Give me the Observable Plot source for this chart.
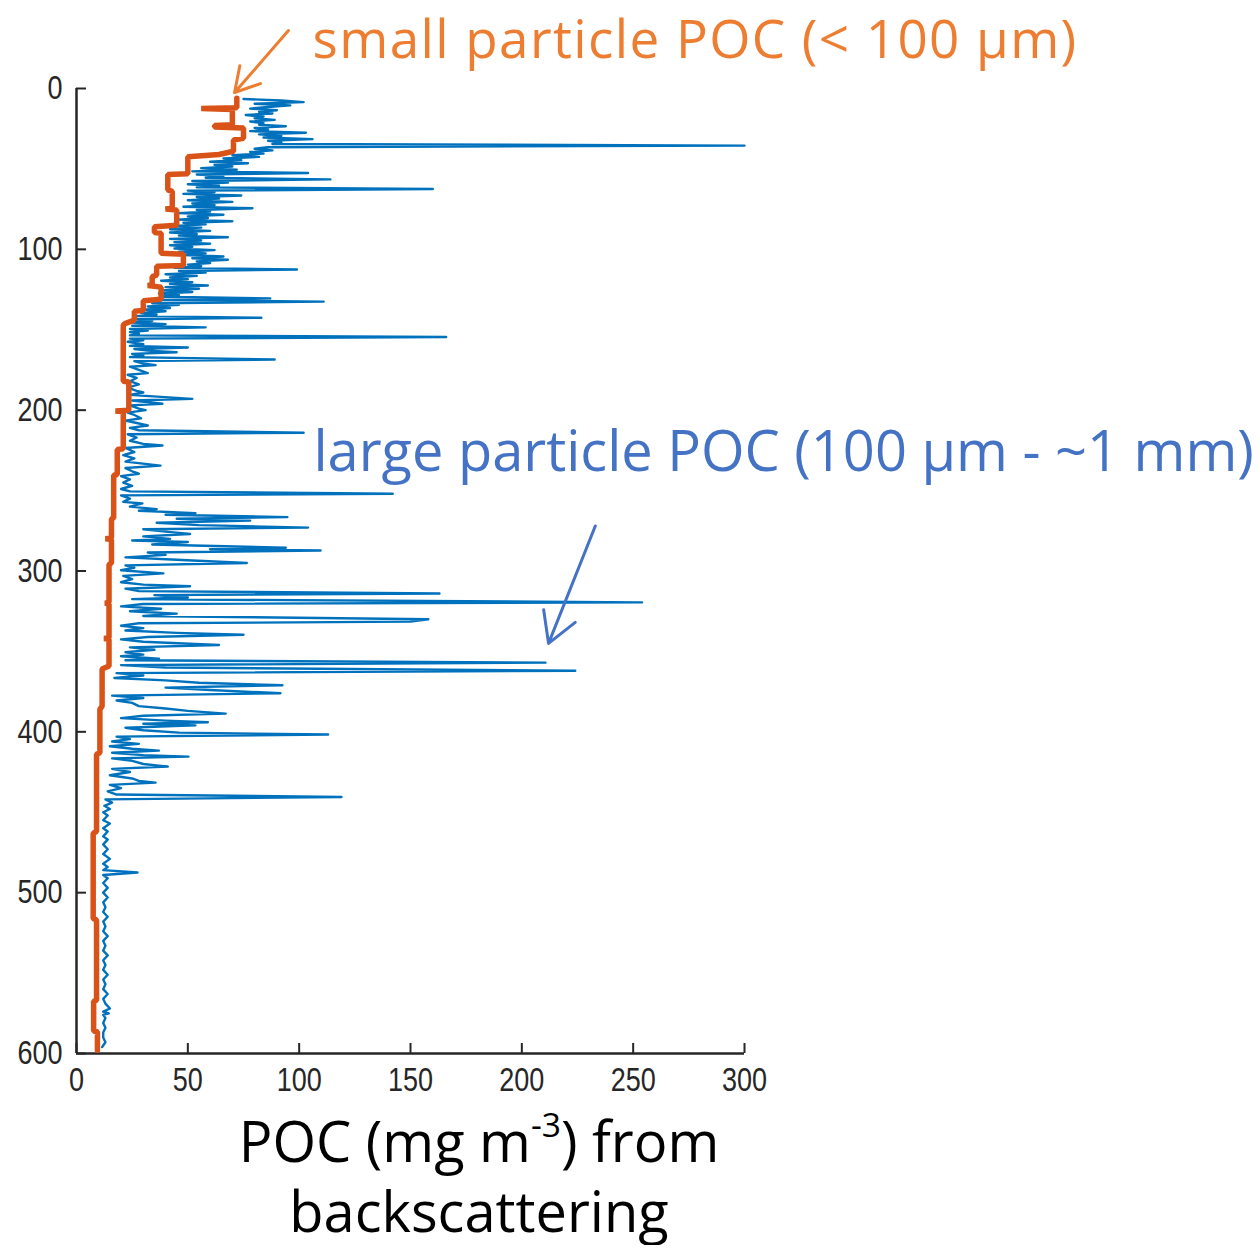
<!DOCTYPE html>
<html>
<head>
<meta charset="utf-8">
<script src="https://cdn.jsdelivr.net/npm/d3@7"></script>
<script src="https://cdn.jsdelivr.net/npm/@observablehq/plot@0.6"></script>
<style>
  html, body { margin: 0; padding: 0; background: #fff; }
  #chart svg { display: block; }
  #xlabel {
    width: 958px; text-align: center;
    font-family: "Open Sans", sans-serif; font-size: 56px; line-height: 70px; color: #000;
  }
  #xlabel sup { font-size: 0.6em; line-height: 0; vertical-align: 0.75em; }
</style>
</head>
<body>
<div id="chart"></div>
<div id="xlabel">POC (mg m<sup>-3</sup>) from<br>backscattering</div>
<script>
// ---- data: large particle POC (blue), [depth m, POC mg m^-3] ----
const largeParticle = [
[6.5,75],[7.5,92],[8.5,102],[9.5,80],[10.5,96],[11.5,86],[12.5,78],[13.5,90],[14.5,82],[15.5,88],
[16.5,76],[17.5,84],[18.5,80],[19.5,89],[20.5,78],[21.5,84],[22.5,82],[23.5,94],[24.5,80],[25.5,86],
[26.5,78],[27.5,103],[28.5,82],[29.5,92],[30.5,84],[31.5,106],[32.5,86],[33.5,92],[34.5,88],[35.5,300],
[36.5,86],[37.5,80],[38.5,88],[39.5,78],[40.5,84],[41.5,70],[42.5,82],[43.5,66],[44.5,74],[45.5,60],
[46.5,77],[47.5,62],[48.5,70],[49.5,56],[50.5,72],[51.5,52],[52.5,104],[53.5,54],[54.5,66],[55.5,58],
[56.5,114],[57.5,52],[58.5,68],[59.5,50],[60.5,64],[61.5,54],[62.5,160],[63.5,50],[64.5,62],[65.5,48],
[66.5,74],[67.5,54],[68.5,64],[69.5,50],[70.5,70],[71.5,52],[72.5,62],[73.5,48],[74.5,79],[75.5,54],
[76.5,60],[77.5,46],[78.5,66],[79.5,50],[80.5,59],[81.5,45],[82.5,70],[83.5,48],[84.5,58],[85.5,44],
[86.5,56],[87.5,42],[88.5,60],[89.5,42],[90.5,54],[91.5,46],[92.5,68],[93.5,42],[94.5,56],[95.5,44],
[96.5,60],[97.5,42],[98.5,52],[99.5,44],[100.5,62],[101.5,46],[102.5,58],[103.5,48],[104.5,66],[105.5,52],
[106.5,68],[107.5,54],[108.5,60],[109.5,50],[110.5,56],[111.5,44],[112.5,99],[113.5,46],[114.5,58],[115.5,40],
[116.5,54],[117.5,42],[118.5,50],[119.5,38],[120.5,52],[121.5,42],[122.5,59],[123.5,40],[124.5,55],[125.5,38],
[126.5,52],[127.5,37],[128.5,46],[129.5,38],[130.5,87],[131.5,36],[132.5,111],[133.5,34],[134.5,46],[135.5,32],
[136.5,42],[137.5,30],[138.5,40],[139.5,29],[140.5,36],[141.5,27],[142.5,83],[143.5,27],[144.5,34],[145.5,25],
[146.5,40],[147.5,25],[148.5,58],[149.5,24],[150.5,32],[151.5,24],[152.5,28],[153.5,24],[154.5,166],[155.5,24],
[156.5,30],[157.5,23],[159,30],[160,24],[161,50],[162,26],[163,32],[164,45],[165,25],[166,30],
[167,24],[168.5,89],[169.5,26],[171,30],[172,35.5],[173,24],[175,28],[177,32],[178,23],[180,27],
[182,24],[184,28],[186,23],[188,27],[189,30],[190.5,24],[193,52],[194,25],[196,38.6],[197,24],
[199,28],[200,31],[201.5,23],[203,26],[205,29],[206.5,22],[208,27],[209.5,32],[211,24],[212.5,28],
[214,102],[215,23],[217,27],[219,24],[221,30],[222,38.6],[223.5,22],[226,26],[228,21],[230,26],
[232,22],[234.5,37.7],[236,22],[238,25],[239.5,28],[241,20],[243,24],[245,21],[247,25],[249,20],
[250.5,24],[252,142],[253,20],[255,24],[257,21],[258,29.6],[260,24],[261.5,36],[262.5,28],[264,53.4],
[265,40],[266.5,94.7],[267.5,45],[268.7,78],[270,36],[271.5,55],[273,104],[274,30],[275.5,40],[277,51],
[278.5,30],[280,42],[281,25],[282,50],[283.5,34],[285.5,94],[286.5,60],[287.3,109.6],[288.5,32],[290,40],
[291.5,22],[293,45],[295,76.5],[296.5,22],[298,26],[299.5,20],[301.5,39],[303,21],[305,25],[307,20],
[308.5,30],[309.5,51],[311,22],[312.5,28],[314,163],[315,35],[316.5,50],[317.5,25],[319.5,254],[320.5,30],
[322,20],[323.5,38],[325,24],[326.5,45],[328,30],[330,158],[331.5,150],[332.5,28],[334,20],[335.5,30],
[337,22],[338.5,45],[339.6,75],[341,32],[342.5,20],[344,30],[346,64],[347.5,24],[349,35],[350.5,22],
[352,30],[353,20],[354.5,37],[355.5,22],[357,210.6],[358.5,20],[360,40],[362,224],[363.5,18],[365,30],
[366.5,17],[368,40],[369.5,55],[371,92.5],[372.5,40],[374,60],[376,91.6],[377.5,16],[379,30],[380.5,18],
[382,25],[384,28],[385.5,40],[387,50],[388.7,67],[390,30],[391.5,20],[393,40],[394,59],[395,30],
[396,53.4],[397.5,22],[399,30],[400.5,46],[401.7,113],[403,18],[404.5,24],[406,16],[407.5,28],[409,15],
[410.5,25],[411.7,37],[413,16],[414.5,30],[415.4,50.3],[416.5,16],[418,25],[420,30],[421.6,41],[423,16],
[425,24],[427,15],[429,25],[430.5,28],[431.6,35.5],[433,15],[435,20],[437,14],[439,18],[440.5,119],
[442,13],[444,16],[446,12.5],[448,15],[450,12],[452,14],[455,12],[457,15],[460,12],[462,14],
[465,12],[467,14],[470,12],[473,14],[476,12],[479,15],[482,12],[484,14],[486,12],[487.5,27.4],
[489,12],[491,14],[494,12],[497,14],[500,12],[503,14],[506,12],[509,13],[512,12],[515,14],
[518,12],[521,13],[524,12],[527,14],[530,12],[533,13],[536,12],[539,14],[542,12],[545,13],
[548,12],[551,14],[554,12],[557,13],[560,12],[563,14],[566,12],[569,13],[572,15],[574,12],
[575,14.5],[576,12],[578,13],[581,12],[584,13],[587,12],[590,12],[593,13],[596,11.5]
];

// ---- data: small particle POC (orange), traced vertices [depth m, POC mg m^-3] ----
const smallParticle = [
[6,72],[12,72],[12.5,56],[13,70],[22.5,70],[23,62],[24,62],[24.5,75],[31,75],[32,70.5],
[39,70.5],[41,64],[42.5,50],[53,50],[53.5,41],[63,41],[64,43],[74,43],[75,40],[75.5,45],
[85,45],[86,35],[89.5,35],[90,38],[102.5,38],[103,48],[110,48],[110.5,36],[116,36],[117,34],
[122,34],[122.5,32],[123.5,38],[131,38],[132,30],[138,30],[138.5,26],[144,26],[146,22],[147,21],
[182,21],[182.5,23.5],[200,23.5],[200.5,17.5],[201,21],[224,21],[224.5,18.3],[240,18.3],[240.5,16.7],[267,16.7],
[267.5,15.7],[279.5,15.7],[280,13],[280.5,15.7],[295,15.7],[296,14.6],[319.5,14.6],[320,12.8],[320.5,14.6],[341.5,14.6],
[342,12.4],[342.5,14.6],[359,14.6],[361,11.5],[384,11.5],[386,10.5],[413,10.5],[414,9],[462,9],[463,7.5],
[516,7.5],[517,9],[567,9],[567.5,7.7],[586,7.7],[586.5,9.4],[598,9.4]
];

const xTicks = [0, 50, 100, 150, 200, 250, 300];
const yTicks = [0, 100, 200, 300, 400, 500, 600];

// annotation texts and anchors (data coordinates)
const annotLabels = ["small particle POC (< 100 µm)", "large particle POC (100 µm - ~1 mm)"];
const annotX = [106, 106.4];
const annotY = [-18.7, 237.6];
const arrowFromX = [95.2, 233];
const arrowFromY = [-36, 272];
const arrowToX = [71, 212];
const arrowToY = [2.5, 345];
const annotColors = ["#ED7D31", "#4472C4"];

const smallNote = [{label: annotLabels[0], x: annotX[0], y: annotY[0]}];
const largeNote = [{label: annotLabels[1], x: annotX[1], y: annotY[1]}];
const smallArrow = [{x1: arrowFromX[0], y1: arrowFromY[0], x2: arrowToX[0], y2: arrowToY[0]}];
const largeArrow = [{x1: arrowFromX[1], y1: arrowFromY[1], x2: arrowToX[1], y2: arrowToY[1]}];

const large = largeParticle.map(([depth, poc]) => ({depth, poc}));
const small = smallParticle.map(([depth, poc]) => ({depth, poc}));

const plot = Plot.plot({
  width: 1260,
  height: 1105,
  marginLeft: 76,
  marginRight: 516,
  marginTop: 88,
  marginBottom: 52,
  style: {fontFamily: "Liberation Sans, Arial, sans-serif", fontSize: "27px", color: "#262626", background: "#fff", overflow: "visible"},
  x: {domain: [0, 300]},
  y: {domain: [0, 600], reverse: true},
  marks: [
    Plot.axisX({ticks: xTicks, tickSize: -10, tickPadding: 24, strokeWidth: 2, label: null, tickFormat: d => String(d)}),
    Plot.axisY({ticks: yTicks, tickSize: -10, tickPadding: 24, strokeWidth: 2, label: null, tickFormat: d => String(d)}),
    Plot.ruleX([0], {y1: 0, y2: 600, stroke: "#262626", strokeWidth: 2.5}),
    Plot.ruleY([600], {x1: 0, x2: 300, stroke: "#262626", strokeWidth: 2.5}),
    Plot.line(large, {x: "poc", y: "depth", stroke: "#0072BD", strokeWidth: 2.4}),
    Plot.line(small, {x: "poc", y: "depth", stroke: "#D95319", strokeWidth: 5.5, strokeLinejoin: "miter"}),
    Plot.arrow(smallArrow, {x1: "x1", y1: "y1", x2: "x2", y2: "y2", stroke: annotColors[0], strokeWidth: 3, headLength: 22, bend: 0}),
    Plot.arrow(largeArrow, {x1: "x1", y1: "y1", x2: "x2", y2: "y2", stroke: annotColors[1], strokeWidth: 3, headLength: 17, bend: 0}),
    Plot.text(smallNote, {x: "x", y: "y", text: "label", fill: annotColors[0], textAnchor: "start", lineAnchor: "bottom", fontSize: 53, fontFamily: "Open Sans"}),
    Plot.text(largeNote, {x: "x", y: "y", text: "label", fill: annotColors[1], textAnchor: "start", lineAnchor: "bottom", fontSize: 56, fontFamily: "Open Sans"})
  ]
});
document.getElementById("chart").appendChild(plot);

// widen the top annotation to the reference's width without raising it above the page
plot.querySelectorAll("text").forEach(t => {
  if (t.textContent === annotLabels[0]) t.setAttribute("letter-spacing", "1.4px");
});

// stretch tick labels vertically (the reference figure is vertically stretched)
plot.querySelectorAll('g[aria-label$="tick label"] text').forEach(t => {
  const tr = t.getAttribute("transform") || "";
  t.setAttribute("transform", tr + " scale(1,1.24)");
});
</script>
</body>
</html>
